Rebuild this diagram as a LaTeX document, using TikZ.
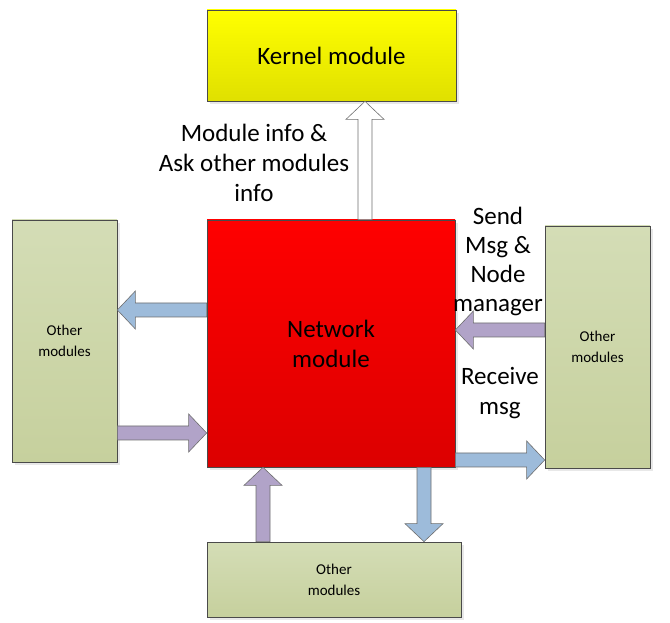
\documentclass[tikz,border=0pt]{standalone}
\usepackage{fontspec}
\setmainfont{Carlito}
\usetikzlibrary{calc,positioning,shadows}
\definecolor{arrowblue}{HTML}{9DBBDA}
\definecolor{arrowpurple}{HTML}{B1A3C8}
\definecolor{edgegray}{HTML}{4A4A4A}
\definecolor{greentop}{HTML}{D4DDB6}
\definecolor{greenbot}{HTML}{C6D09D}
\tikzset{
  box/.style={draw=edgegray, line width=0.7pt, inner sep=0pt, align=center,
    drop shadow={shadow xshift=3pt, shadow yshift=-3pt, fill=black!30, opacity=0.3}},
  modbox/.style={box, top color=greentop, bottom color=greenbot,
    font=\fontsize{15}{21}\selectfont},
  kernbox/.style={box, top color=yellow, bottom color={rgb,255:red,224;green,224;blue,0},
    font=\fontsize{25}{30}\selectfont},
  netbox/.style={box, top color=red, bottom color={rgb,255:red,220;green,0;blue,0},
    font=\fontsize{25}{30}\selectfont},
  lbl/.style={align=center, inner sep=0pt, font=\fontsize{25}{30}\selectfont}
}
\newcommand{\blockarrow}[3]{%
  \coordinate (ah) at ($(#3)!18pt!(#2)$);
  \filldraw[fill=#1, draw=edgegray!80, line width=0.6pt, line join=miter]
    ($(#2)!7pt!90:(#3)$) -- ($(ah)!7pt!90:(#3)$) -- ($(ah)!19pt!90:(#3)$) -- (#3)
    -- ($(ah)!19pt!-90:(#3)$) -- ($(ah)!7pt!-90:(#3)$) -- ($(#2)!7pt!-90:(#3)$) -- cycle;}

\begin{document}
\begin{tikzpicture}[x=1pt, y=1pt]
  \useasboundingbox (0,0) rectangle (670,622);

  \node[kernbox, minimum width=249pt, minimum height=91pt] (kern) at (331.5,566.5) {Kernel module};
  \node[netbox, minimum width=248pt, minimum height=247pt] (net) at (331,278.5) {Network\\module};
  \node[modbox, minimum width=105pt, minimum height=242pt] (lft) at (64.5,281) {Other\\modules};
  \node[modbox, minimum width=105pt, minimum height=242pt] (rgt) at (597.5,275) {Other\\modules};
  \node[modbox, minimum width=254pt, minimum height=75pt] (bot) at (334,42.5) {Other\\modules};

  \node[lbl] (info) at (254,459) {Module info \&\\Ask other modules\\info};
  \node[lbl, font=\fontsize{25}{29}\selectfont] (send) at (498,361) {Send\\Msg \&\\Node\\manager};
  \node[lbl] (recv) at (500,229) {Receive\\msg};

  % connectors
  \coordinate (upA) at ([xshift=34pt]net.north);
  \coordinate (upB) at (upA |- kern.south);
  \blockarrow{white}{upA}{upB}

  \coordinate (lbA) at ([yshift=33.5pt]net.west);
  \coordinate (lbB) at (lft.east |- lbA);
  \blockarrow{arrowblue}{lbA}{lbB}

  \coordinate (lpB) at ([yshift=-89.5pt]net.west);
  \coordinate (lpA) at (lft.east |- lpB);
  \blockarrow{arrowpurple}{lpA}{lpB}

  \coordinate (rpB) at ([yshift=13.5pt]net.east);
  \coordinate (rpA) at (rgt.west |- rpB);
  \blockarrow{arrowpurple}{rpA}{rpB}

  \coordinate (rbA) at ([yshift=-116.5pt]net.east);
  \coordinate (rbB) at (rgt.west |- rbA);
  \blockarrow{arrowblue}{rbA}{rbB}

  \coordinate (bpB) at ([xshift=-68pt]net.south);
  \coordinate (bpA) at (bpB |- bot.north);
  \blockarrow{arrowpurple}{bpA}{bpB}

  \coordinate (bbA) at ([xshift=93pt]net.south);
  \coordinate (bbB) at (bbA |- bot.north);
  \blockarrow{arrowblue}{bbA}{bbB}
\end{tikzpicture}
\end{document}
